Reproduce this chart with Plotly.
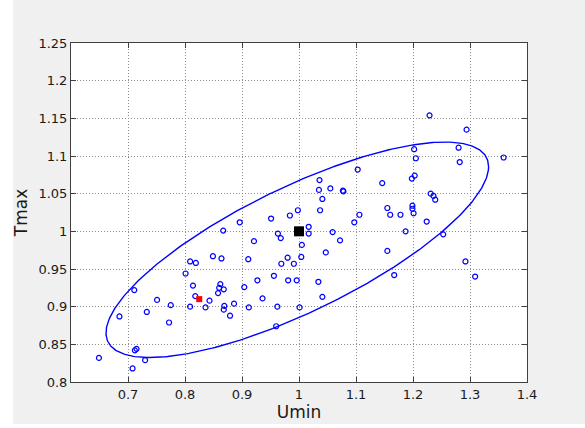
import numpy as np
import plotly.graph_objects as go

# ---- data ----
umin = [1.229, 1.294, 1.280, 1.202, 1.359, 1.205, 1.282, 1.103, 1.203, 1.198,
        1.036, 1.146, 1.055, 1.035, 1.077, 1.078, 1.231, 1.236, 1.239, 1.041,
        1.199, 1.199, 1.155, 0.998, 1.037, 1.201, 1.160, 1.178, 1.106, 0.984,
        0.951, 0.896, 1.097, 1.224, 1.017, 0.867, 1.059, 1.187, 0.963, 1.017,
        1.253, 0.968, 1.072, 0.921, 1.005, 1.155, 1.047, 0.849, 1.004, 0.980,
        0.864, 0.911, 0.809, 0.819, 0.969, 0.991, 1.292, 0.801, 0.956, 1.167,
        1.309, 0.927, 0.981, 0.996, 1.034, 0.814, 0.862, 0.860, 0.904, 0.868,
        0.858, 0.711, 0.818, 1.041, 0.936, 0.751, 0.843, 0.775, 0.886, 0.809,
        0.836, 0.869, 0.868, 0.912, 0.962, 1.001, 0.733, 0.879, 0.685, 0.772,
        0.960, 0.712, 0.715, 0.649, 0.730, 0.708]
tmax = [1.154, 1.135, 1.111, 1.109, 1.098, 1.097, 1.092, 1.082, 1.074, 1.070,
        1.068, 1.064, 1.057, 1.055, 1.054, 1.053, 1.050, 1.047, 1.042, 1.043,
        1.034, 1.030, 1.031, 1.028, 1.028, 1.024, 1.022, 1.022, 1.022, 1.021,
        1.017, 1.012, 1.012, 1.013, 1.006, 1.001, 0.999, 1.000, 0.997, 0.997,
        0.996, 0.991, 0.988, 0.987, 0.982, 0.974, 0.972, 0.967, 0.966, 0.965,
        0.964, 0.963, 0.960, 0.958, 0.957, 0.957, 0.960, 0.944, 0.941, 0.942,
        0.940, 0.935, 0.935, 0.935, 0.933, 0.928, 0.930, 0.925, 0.926, 0.923,
        0.918, 0.922, 0.914, 0.913, 0.911, 0.909, 0.908, 0.902, 0.904, 0.900,
        0.899, 0.901, 0.896, 0.899, 0.900, 0.899, 0.893, 0.888, 0.887, 0.879,
        0.874, 0.842, 0.844, 0.832, 0.829, 0.818]

nominal_point = [1.0, 1.0]        # black square
selected_point = [0.825, 0.910]   # red square

# ellipse parameters: centre, half-widths along axes, correlation
ell_center = [0.997, 0.9755]
ell_sx = 0.3356
ell_sy = 0.143
ell_rho = 0.771

x_ticks = [0.7, 0.8, 0.9, 1.0, 1.1, 1.2, 1.3, 1.4]
x_ticklabels = ["0.7", "0.8", "0.9", "1", "1.1", "1.2", "1.3", "1.4"]
y_ticks = [0.8, 0.85, 0.9, 0.95, 1.0, 1.05, 1.1, 1.15, 1.2, 1.25]
y_ticklabels = ["0.8", "0.85", "0.9", "0.95", "1", "1.05", "1.1", "1.15", "1.2", "1.25"]

# ---- ellipse curve ----
t = np.linspace(0, 2 * np.pi, 400)
ex = ell_center[0] + ell_sx * np.cos(t)
ey = ell_center[1] + ell_sy * (ell_rho * np.cos(t) + np.sqrt(1 - ell_rho ** 2) * np.sin(t))

fig = go.Figure()
fig.add_trace(go.Scatter(x=umin, y=tmax, mode="markers",
                         marker=dict(symbol="circle-open", size=5, color="#0000ff",
                                     line=dict(width=1.2, color="#0000ff")),
                         showlegend=False, hoverinfo="x+y"))
fig.add_trace(go.Scatter(x=ex, y=ey, mode="lines",
                         line=dict(color="#0000ff", width=1.4),
                         showlegend=False, hoverinfo="skip"))
fig.add_trace(go.Scatter(x=[nominal_point[0]], y=[nominal_point[1]], mode="markers",
                         marker=dict(symbol="square", size=10, color="black"),
                         showlegend=False))
fig.add_trace(go.Scatter(x=[selected_point[0]], y=[selected_point[1]], mode="markers",
                         marker=dict(symbol="square", size=6, color="#ff0000"),
                         showlegend=False))

font_family = "DejaVu Sans"
axis_common = dict(showline=True, linecolor="#404040", linewidth=1, mirror="ticks",
                   ticks="inside", ticklen=5, tickcolor="#404040",
                   showgrid=True, gridcolor="#8c8c8c", griddash="1px,2px", gridwidth=1,
                   zeroline=False,
                   tickfont=dict(family=font_family, size=13, color="#1a1a1a"))

fig.update_xaxes(range=[0.6, 1.4], tickvals=x_ticks, ticktext=x_ticklabels,
                 title=dict(text="Umin", font=dict(family=font_family, size=17, color="#1a1a1a"),
                            standoff=3),
                 **axis_common)
fig.update_yaxes(range=[0.8, 1.25], tickvals=y_ticks, ticktext=y_ticklabels,
                 title=dict(text="Tmax", font=dict(family=font_family, size=17, color="#1a1a1a"),
                            standoff=6),
                 **axis_common)

fig.update_layout(
    width=585, height=428,
    margin=dict(l=71, r=58, t=43, b=46, pad=0, autoexpand=False),
    paper_bgcolor="#f0f0f0", plot_bgcolor="white",
    shapes=[
        dict(type="rect", xref="paper", yref="paper", x0=-0.16, x1=-0.127, y0=-0.2, y1=1.2,
             fillcolor="white", line=dict(width=0), layer="below"),
        dict(type="rect", xref="paper", yref="paper", x0=-0.16, x1=1.2, y0=-0.14, y1=-0.1239,
             fillcolor="white", line=dict(width=0), layer="below"),
    ],
)

fig.write_html("out.html", config={"displayModeBar": False},
               post_script="document.body.style.margin='0';document.body.style.overflow='hidden';")
